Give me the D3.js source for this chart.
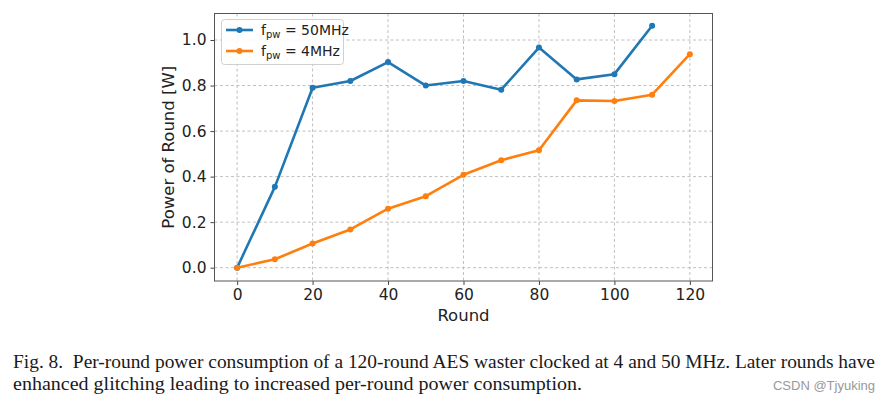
<!DOCTYPE html>
<html><head><meta charset="utf-8">
<script src="https://cdn.jsdelivr.net/npm/d3@7"></script>
<style>body{margin:0;background:#fff}svg{display:block}</style>
</head><body>
<script>
const rounds50 = [0,10,20,30,40,50,60,70,80,90,100,110];
const power50 = [0,0.355,0.79,0.82,0.903,0.80,0.82,0.782,0.967,0.827,0.85,1.063];
const rounds4 = [0,10,20,30,40,50,60,70,80,90,100,110,120];
const power4 = [0,0.037,0.106,0.168,0.259,0.314,0.408,0.472,0.516,0.735,0.732,0.76,0.938];
const xTicks = [0,20,40,60,80,100,120];
const yTicks = [0.0,0.2,0.4,0.6,0.8,1.0];
const seriesNames = ["50MHz","4MHz"];
const colors = ["#1f77b4","#ff7f0e"];
const caption1 = "Fig. 8.\u00a0 Per-round power consumption of a 120-round AES waster clocked at 4 and 50 MHz. Later rounds have";
const caption2 = "enhanced glitching leading to increased per-round power consumption.";
const watermark = "CSDN @Tjyuking";

const W=879,H=407;
const svg=d3.select("body").append("svg").attr("width",W).attr("height",H);
const L=214.5,R=712.5,T=13.5,B=281;
const x=d3.scaleLinear().domain([-6,126]).range([L,R]);
const y=d3.scaleLinear().domain([-0.0585,1.1165]).range([B,T]);

// grid
const g=svg.append("g");
g.selectAll(".gx").data(xTicks).enter().append("line")
 .attr("x1",d=>x(d)).attr("x2",d=>x(d)).attr("y1",T).attr("y2",B)
 .attr("stroke","#b0b0b0").attr("stroke-width",0.8).attr("stroke-dasharray","3,2.5");
g.selectAll(".gy").data(yTicks).enter().append("line")
 .attr("y1",d=>y(d)).attr("y2",d=>y(d)).attr("x1",L).attr("x2",R)
 .attr("stroke","#b0b0b0").attr("stroke-width",0.8).attr("stroke-dasharray","3,2.5");

// axes
const xAxis=svg.append("g").attr("transform",`translate(0,${B})`)
 .call(d3.axisBottom(x).tickValues(xTicks).tickSize(4).tickPadding(4).tickFormat(d3.format("d")));
const yAxis=svg.append("g").attr("transform",`translate(${L},0)`)
 .call(d3.axisLeft(y).tickValues(yTicks).tickSize(4).tickPadding(4).tickFormat(d3.format(".1f")));
[xAxis,yAxis].forEach(a=>{
 a.select(".domain").remove();
 a.selectAll("text").attr("font-family","DejaVu Sans").attr("font-size",15.5).attr("fill","#222");
 a.selectAll("line").attr("stroke","#444");
});
svg.append("rect").attr("x",L).attr("y",T).attr("width",R-L).attr("height",B-T)
 .attr("fill","none").attr("stroke","#555").attr("stroke-width",1);

// lines
const series=[
 {xs:rounds50,ys:power50,c:colors[0]},
 {xs:rounds4,ys:power4,c:colors[1]}
];
const line=d3.line().x(d=>x(d[0])).y(d=>y(d[1]));
series.forEach(s=>{
 const pts=s.xs.map((v,i)=>[v,s.ys[i]]);
 svg.append("path").datum(pts).attr("d",line).attr("fill","none")
  .attr("stroke",s.c).attr("stroke-width",2.6).attr("stroke-linejoin","round");
 svg.selectAll(null).data(pts).enter().append("circle")
  .attr("cx",d=>x(d[0])).attr("cy",d=>y(d[1])).attr("r",3).attr("fill",s.c);
});

// axis labels
svg.append("text").attr("x",(L+R)/2).attr("y",321).attr("text-anchor","middle")
 .attr("font-family","DejaVu Sans").attr("font-size",16.5).attr("fill","#222").text("Round");
svg.append("text").attr("transform",`translate(174,${(T+B)/2}) rotate(-90)`).attr("text-anchor","middle")
 .attr("font-family","DejaVu Sans").attr("font-size",16.5).attr("fill","#222").text("Power of Round [W]");

// legend
const lg=svg.append("g");
lg.append("rect").attr("x",221.5).attr("y",19.5).attr("width",122).attr("height",45).attr("rx",3)
 .attr("fill","#fff").attr("fill-opacity",0.85).attr("stroke","#d0d0d0");
seriesNames.forEach((n,i)=>{
 const yy=30+i*21;
 lg.append("line").attr("x1",226).attr("x2",253).attr("y1",yy).attr("y2",yy)
  .attr("stroke",colors[i]).attr("stroke-width",2.6);
 lg.append("circle").attr("cx",239.5).attr("cy",yy).attr("r",3).attr("fill",colors[i]);
 const t=lg.append("text").attr("x",261).attr("y",yy+5).attr("font-family","DejaVu Sans")
  .attr("font-size",14).attr("fill","#222");
 t.append("tspan").text("f");
 t.append("tspan").attr("font-size",10).attr("dy",3).text("pw");
 t.append("tspan").attr("dy",-3).text(" = "+n);
});

// caption
svg.append("text").attr("x",13).attr("y",367.5).attr("font-family","Liberation Serif")
 .attr("font-size",19).attr("fill","#1a1a1a").attr("textLength",862).attr("lengthAdjust","spacingAndGlyphs").text(caption1);
svg.append("text").attr("x",13).attr("y",389.5).attr("font-family","Liberation Serif")
 .attr("font-size",19).attr("fill","#1a1a1a").attr("textLength",569).attr("lengthAdjust","spacingAndGlyphs").text(caption2);
svg.append("text").attr("x",875).attr("y",390).attr("text-anchor","end").attr("font-family","Liberation Sans")
 .attr("font-size",13).attr("fill","#999").text(watermark);
</script>
</body></html>
